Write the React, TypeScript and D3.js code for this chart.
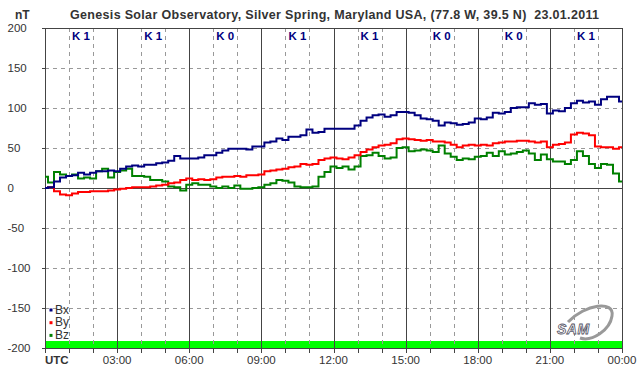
import React from "react";
import * as d3 from "d3";

const TITLE = "Genesis Solar Observatory, Silver Spring, Maryland USA, (77.8 W, 39.5 N)  23.01.2011";
const yTicks = [200, 150, 100, 50, 0, -50, -100, -150, -200];
const xTickLabels = ["UTC", "03:00", "06:00", "09:00", "12:00", "15:00", "18:00", "21:00", "00:00"];
const kIndex = ["K 1", "K 1", "K 0", "K 1", "K 1", "K 0", "K 0", "K 1"];
const seriesNames = ["Bx", "By", "Bz"];
const seriesColors = ["#000080", "#ff0000", "#008000"];

// samples every 15 minutes, 00:00 .. 24:00
const bx = [
  0, 1, 8, 13, 15, 16, 19, 17, 19, 21, 21, 22, 21, 24, 27, 28, 27, 29, 29, 31, 32, 34, 40, 37,
  37, 37, 38, 41, 41, 44, 47, 49, 49, 49, 48, 52, 52, 57, 58, 62, 60, 64, 64, 66, 73, 69, 70, 74,
  74, 74, 74, 74, 78, 84, 88, 91, 92, 89, 91, 95, 95, 94, 91, 87, 86, 84, 78, 82, 81, 79, 80, 82,
  87, 86, 88, 94, 93, 95, 100, 101, 101, 106, 104, 105, 93, 97, 96, 100, 106, 109, 107, 108, 104, 111, 114, 114,
  108,
];
const by = [
  0, 1, -4, -8, -9, -7, -5, -5, -4, -4, -4, -3, -2, -1, 0, 1, 1, 1, 2, 3, 4, 6, 7, 10,
  12, 10, 11, 10, 11, 13, 14, 14, 15, 14, 16, 16, 17, 21, 22, 23, 24, 26, 27, 30, 29, 30, 35, 37,
  38, 37, 36, 38, 41, 45, 48, 51, 53, 54, 56, 61, 62, 61, 60, 59, 60, 58, 58, 57, 54, 51, 53, 54,
  53, 54, 53, 56, 57, 58, 58, 59, 59, 58, 57, 58, 51, 54, 55, 57, 67, 69, 68, 66, 52, 51, 51, 49,
  51,
];
const bz = [
  14, 7, 20, 17, 15, 17, 12, 13, 12, 21, 24, 13, 20, 22, 24, 15, 15, 14, 10, 10, 8, 2, 1, -3,
  4, 6, 4, 4, 2, 0, 2, 0, 3, -1, -1, 0, 1, 4, 6, 10, 9, 7, 2, 1, 1, 2, 14, 20,
  27, 25, 27, 23, 27, 40, 41, 44, 40, 37, 38, 50, 51, 46, 47, 48, 47, 45, 53, 43, 39, 35, 37, 36,
  39, 40, 44, 40, 46, 42, 43, 45, 47, 43, 35, 42, 36, 33, 33, 30, 35, 46, 40, 30, 25, 30, 29, 18,
  8,
];

const W = 642;
const H = 376;
const L = 45;
const R = 622;
const T = 28;
const B = 348;
const FONT = "Arial, 'Liberation Sans', sans-serif";

export default function App() {
  const x = d3.scaleLinear().domain([0, 24]).range([L, R]);
  const y = d3.scaleLinear().domain([-200, 200]).range([B, T]);
  const series = [bx, by, bz];
  const line = d3
    .line<number>()
    .x((_, i) => x(i * 0.25))
    .y((d) => y(d))
    .curve(d3.curveStep);
  const hours = d3.range(0, 25);

  return (
    <svg width={W} height={H} style={{ position: "absolute", left: 0, top: 0, background: "#fff" }} fontFamily={FONT}>
      <rect x={0} y={0} width={W} height={H} fill="#fff" />
      {/* title */}
      <text x={15} y={18.5} fontSize={12} fontWeight="bold" fill="#333">nT</text>
      <text x={70} y={18.5} fontSize={12.5} fontWeight="bold" fill="#333" textLength={529} lengthAdjust="spacing" style={{ whiteSpace: "pre" }}>{TITLE}</text>

      {/* green bar */}
      <rect x={L} y={y(-200) - 7} width={R - L} height={7} fill="#00ff00" />

      {/* horizontal grid */}
      {yTicks.filter((v) => v !== 200 && v !== -200 && v !== 0).map((v) => (
        <line key={"h" + v} x1={L} x2={R} y1={y(v) + 0.5} y2={y(v) + 0.5} stroke="#999" strokeDasharray="4,4" />
      ))}
      {/* vertical grid */}
      {hours.filter((h) => h % 3 !== 0).map((h) => (
        <line key={"v" + h} x1={Math.round(x(h)) + 0.5} x2={Math.round(x(h)) + 0.5} y1={T} y2={B} stroke="#999" strokeDasharray="4,4" />
      ))}
      {hours.filter((h) => h % 3 === 0).map((h) => (
        <line key={"s" + h} x1={Math.round(x(h)) + 0.5} x2={Math.round(x(h)) + 0.5} y1={T} y2={B + 5} stroke="#444" />
      ))}
      {hours.filter((h) => h % 3 !== 0).map((h) => (
        <line key={"t" + h} x1={Math.round(x(h)) + 0.5} x2={Math.round(x(h)) + 0.5} y1={B} y2={B + 5} stroke="#444" />
      ))}
      {/* zero line and frame */}
      <line x1={L} x2={R} y1={y(0) + 0.5} y2={y(0) + 0.5} stroke="#444" />
      <line x1={L - 3} x2={R} y1={T + 0.5} y2={T + 0.5} stroke="#444" />
      <line x1={L - 3} x2={R} y1={B + 0.5} y2={B + 0.5} stroke="#444" />

      {/* y ticks and labels */}
      {yTicks.map((v) => (
        <g key={"yt" + v}>
          <line x1={L - 3} x2={L} y1={y(v) + 0.5} y2={y(v) + 0.5} stroke="#444" />
          <text x={7.5} y={y(v) + 4} fontSize={11.5} fill="#333">{v}</text>
        </g>
      ))}

      {/* x labels */}
      {xTickLabels.map((t, i) =>
        i === 0 ? (
          <text key={t} x={L} y={364} fontSize={11.5} fontWeight="bold" fill="#333">{t}</text>
        ) : (
          <text key={t} x={x(i * 3)} y={364} fontSize={11.5} fill="#333" textAnchor="middle">{t}</text>
        )
      )}

      {/* K indices */}
      {kIndex.map((k, i) => (
        <text key={"k" + i} x={x(i * 3 + 1.5)} y={40} fontSize={11.5} fontWeight="bold" fill="#000080" textAnchor="middle">{k}</text>
      ))}

      {/* series */}
      {[2, 1, 0].map((si) => (
        <path key={seriesNames[si]} d={line(series[si]) || ""} fill="none" stroke={seriesColors[si]} strokeWidth={2} strokeLinejoin="miter" />
      ))}

      {/* legend */}
      {seriesNames.map((n, i) => (
        <g key={"lg" + n}>
          <rect x={49.5} y={308.5 + i * 12.7} width={3} height={3} fill={seriesColors[i]} />
          <text x={55} y={313.5 + i * 12.7} fontSize={12} fill="#333">{n}</text>
        </g>
      ))}

      {/* SAM logo */}
      <g>
        <path d="M568,322 C585,304 615,300 612,316 C610,330 592,342 580,338" fill="none" stroke="#999" strokeWidth={3} />
        <text x={557} y={334} fontSize={14} fontStyle="italic" fontWeight="bold" fill="#fff" stroke="#556" strokeWidth={0.8} letterSpacing={0.5}>SAM</text>
      </g>
    </svg>
  );
}
